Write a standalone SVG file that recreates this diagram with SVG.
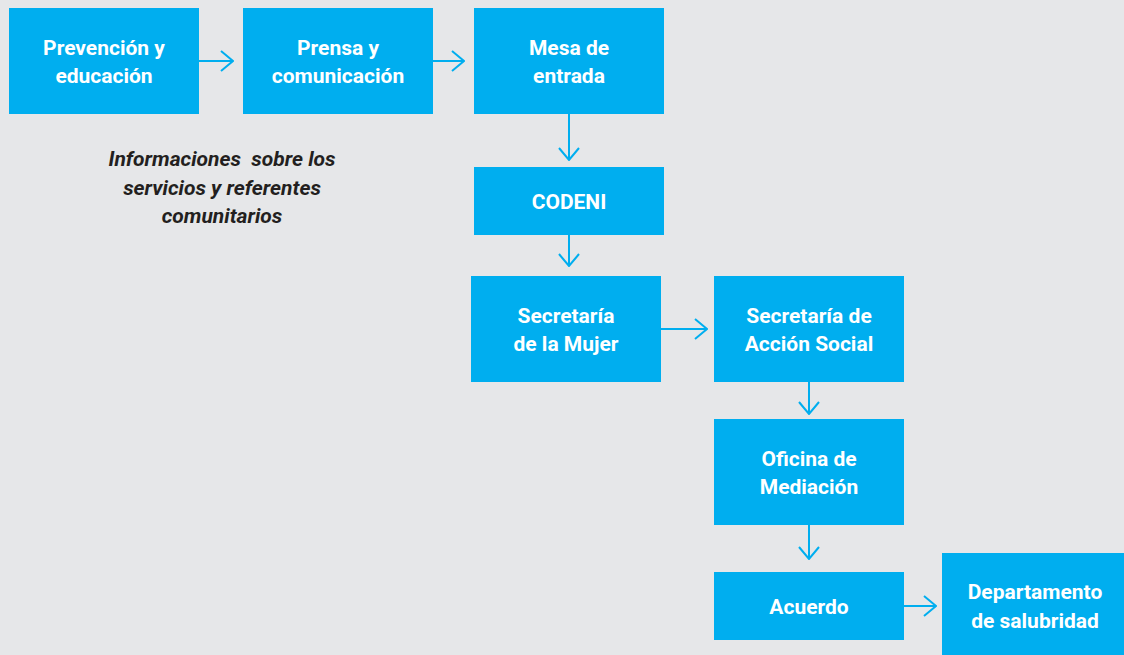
<svg xmlns="http://www.w3.org/2000/svg" width="1124" height="655" viewBox="0 0 1124 655">
<style>
.box{fill:#00AEEF}
.t{font-family:Roboto,"Liberation Sans",sans-serif;font-weight:700;font-size:21px;fill:#fff;text-anchor:middle}
.note{font-family:Roboto,"Liberation Sans",sans-serif;font-weight:700;font-style:italic;font-size:21px;fill:#231F20;text-anchor:middle;white-space:pre}
.c{stroke:#00AEEF;stroke-width:2;fill:none}
</style>
<defs>
<marker id="ah" viewBox="0 0 14 22" refX="13" refY="11" markerWidth="14" markerHeight="22" markerUnits="userSpaceOnUse" orient="auto">
<path d="M1,1 L13,11 L1,21" fill="none" stroke="#00AEEF" stroke-width="2"/>
</marker>
</defs>
<rect width="1124" height="655" fill="#E6E7E9"/>
<g id="connectors">
<line class="c" x1="199" y1="61" x2="233" y2="61" marker-end="url(#ah)"/>
<line class="c" x1="433" y1="61" x2="464" y2="61" marker-end="url(#ah)"/>
<line class="c" x1="569" y1="114" x2="569" y2="160" marker-end="url(#ah)"/>
<line class="c" x1="569" y1="235" x2="569" y2="266" marker-end="url(#ah)"/>
<line class="c" x1="661" y1="329" x2="707" y2="329" marker-end="url(#ah)"/>
<line class="c" x1="809" y1="382" x2="809" y2="414" marker-end="url(#ah)"/>
<line class="c" x1="809" y1="525" x2="809" y2="559" marker-end="url(#ah)"/>
<line class="c" x1="904" y1="606" x2="936" y2="606" marker-end="url(#ah)"/>
</g>
<g id="n1"><rect class="box" x="9" y="8" width="190" height="106"/><text class="t" x="104" y="55">Prevención y</text><text class="t" x="104" y="83">educación</text></g>
<g id="n2"><rect class="box" x="243" y="8" width="190" height="106"/><text class="t" x="338" y="55">Prensa y</text><text class="t" x="338" y="83">comunicación</text></g>
<g id="n3"><rect class="box" x="474" y="8" width="190" height="106"/><text class="t" x="569" y="55">Mesa de</text><text class="t" x="569" y="83">entrada</text></g>
<g id="note"><text class="note" x="222" y="166" xml:space="preserve">Informaciones  sobre los</text><text class="note" x="222" y="195">servicios y referentes</text><text class="note" x="222" y="223">comunitarios</text></g>
<g id="n4"><rect class="box" x="474" y="167" width="190" height="68"/><text class="t" x="569" y="209">CODENI</text></g>
<g id="n5"><rect class="box" x="471" y="276" width="190" height="106"/><text class="t" x="566" y="323">Secretaría</text><text class="t" x="566" y="351">de la Mujer</text></g>
<g id="n6"><rect class="box" x="714" y="276" width="190" height="106"/><text class="t" x="809" y="323">Secretaría de</text><text class="t" x="809" y="351">Acción Social</text></g>
<g id="n7"><rect class="box" x="714" y="419" width="190" height="106"/><text class="t" x="809" y="466">Oficina de</text><text class="t" x="809" y="494">Mediación</text></g>
<g id="n8"><rect class="box" x="714" y="572" width="190" height="68"/><text class="t" x="809" y="614">Acuerdo</text></g>
<g id="n9"><rect class="box" x="942" y="553" width="190" height="110"/><text class="t" x="1035" y="599">Departamento</text><text class="t" x="1035" y="628">de salubridad</text></g>
</svg>
